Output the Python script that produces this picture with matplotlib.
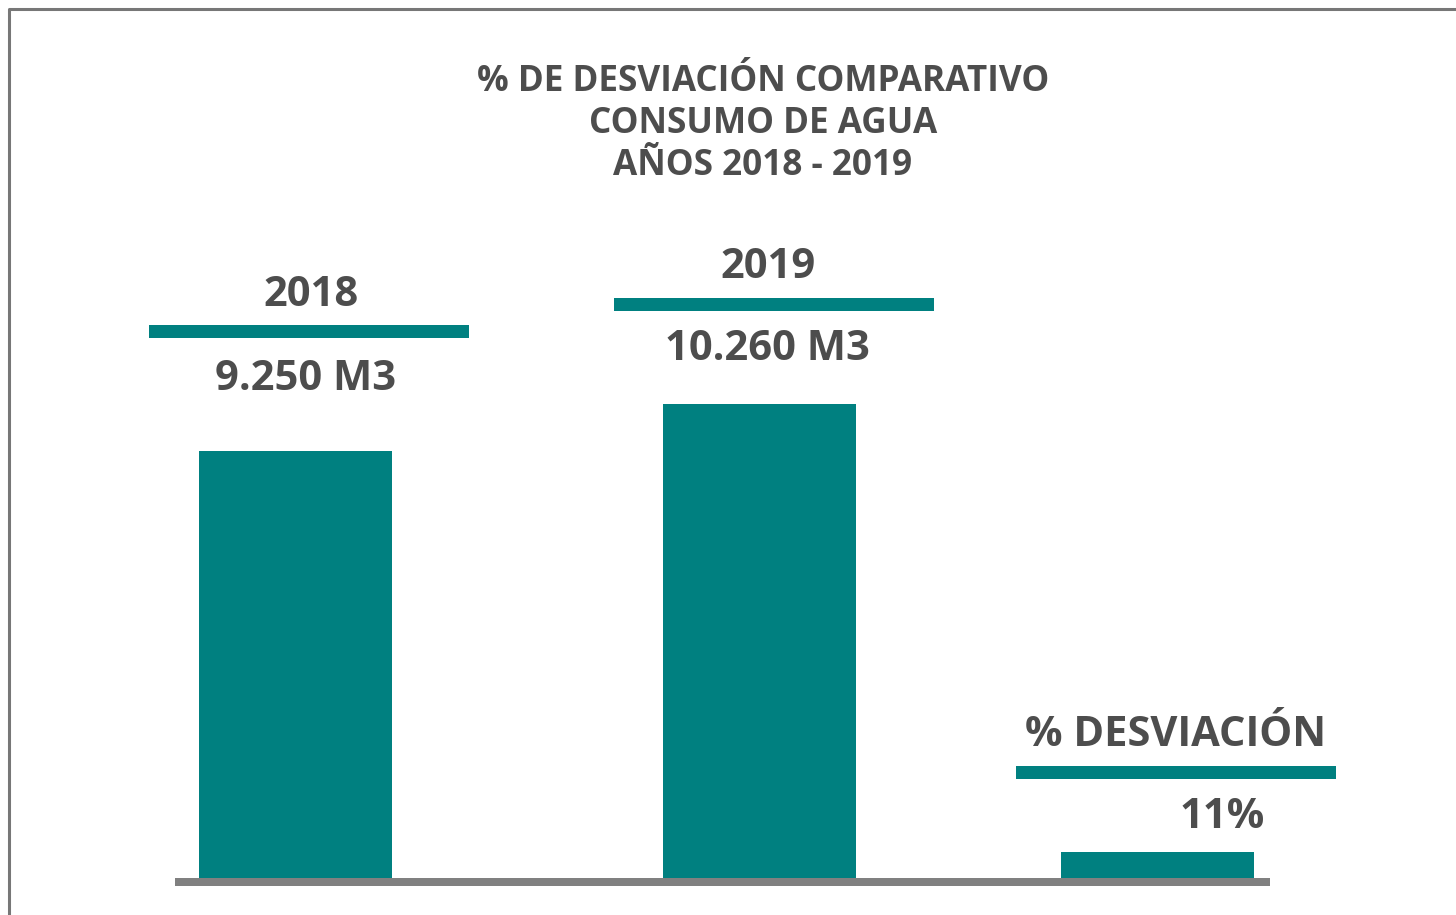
import matplotlib.pyplot as plt
from matplotlib.patches import Rectangle

# data
years = ['2018', '2019']
consumo = [9250, 10260]            # M3
consumo_labels = ['9.250 M3', '10.260 M3']
desviacion = 11                    # %
desv_bar = 560                     # drawn height of the small bar (same units as consumo)
titulo = '% DE DESVIACIÓN COMPARATIVO\nCONSUMO DE AGUA\nAÑOS 2018 - 2019'

teal = '#008080'
txt = '#4d4d4d'
W, H = 1456, 915

plt.rcParams['font.family'] = ['Open Sans', 'DejaVu Sans']
fig = plt.figure(figsize=(W / 100, H / 100), dpi=100)
fig.patch.set_facecolor('white')

# bars axes: baseline at pixel 878, 10260 reaches pixel 404
ax = fig.add_axes([0, (H - 878) / H, 1, 474 / H])
ax.set_xlim(0, W)
ax.set_ylim(0, max(consumo))
ax.axis('off')
bar_x = [295.5, 759.5, 1157.5]
ax.bar(bar_x, consumo + [desv_bar], width=193, color=teal, clip_on=False)

# overlay in pixel coords for frame, rules and labels
deco = fig.add_axes([0, 0, 1, 1], zorder=3)
deco.set_xlim(0, W)
deco.set_ylim(H, 0)
deco.axis('off')
deco.patch.set_alpha(0)

# frame
deco.plot([8.5, 8.5, W + 5], [H + 5, 8.5, 8.5], color='#777777', lw=2.2,
          solid_capstyle='butt', clip_on=False)

# baseline
deco.add_patch(Rectangle((175, 878), 1095, 8, color='#808080', lw=0))

# teal rules above bars
rules = [(149, 325), (614, 298), (1016, 766)]
for x0, y0 in rules:
    deco.add_patch(Rectangle((x0, y0), 320, 13, color=teal, lw=0))

fs = 30
labels = [
    (311, 295, years[0]),
    (306, 380, consumo_labels[0]),
    (768, 268, years[1]),
    (767, 350, consumo_labels[1]),
    (1176, 736, '% DESVIACIÓN'),
    (1222, 818, f'{desviacion}%'),
]
for x, y, s in labels:
    deco.text(x, y, s, ha='center', va='center', fontsize=fs,
              fontweight='bold', color=txt)

deco.text(763, 124, titulo, ha='center', va='center', fontsize=25.3,
          fontweight='bold', color=txt, linespacing=1.22)

fig.savefig('out.png', dpi=100)
